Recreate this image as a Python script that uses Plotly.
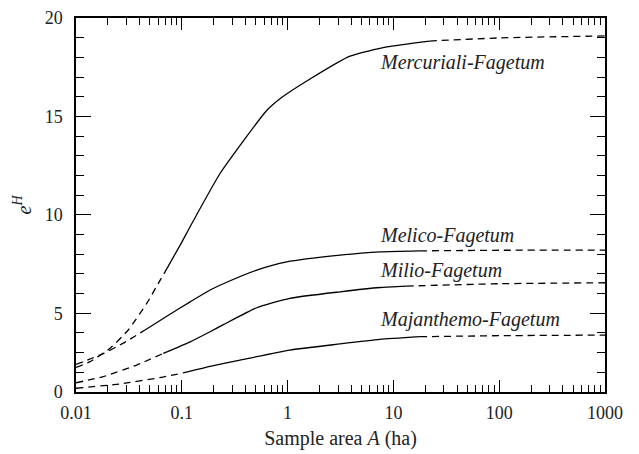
import plotly.graph_objects as go
import math

# ---- data ----
merc_x = [0.01, 0.0136, 0.021, 0.0312, 0.0466, 0.06, 0.0694, 0.0998, 0.115, 0.23, 0.634, 0.848, 1.63, 3.89, 8.65, 22, 102, 1000]
merc_y = [2.25, 2.54, 3.22, 4.15, 5.5, 6.52, 7.1, 8.6, 9.22, 12.1, 15.3, 15.9, 16.9, 18.06, 18.53, 18.83, 18.99, 19.09]
merc_solid = (0.0694, 22)

meli_x = [0.01, 0.0181, 0.028, 0.0449, 0.0773, 0.12, 0.185, 0.247, 0.51, 0.98, 3.13, 7.46, 17.8, 100, 1000]
meli_y = [2.4, 2.95, 3.48, 4.15, 4.95, 5.58, 6.18, 6.5, 7.19, 7.61, 7.95, 8.12, 8.17, 8.2, 8.21]
meli_solid = (0.0449, 17.8)

mili_x = [0.01, 0.0181, 0.0375, 0.0668, 0.12, 0.185, 0.247, 0.51, 1.05, 3.13, 7.46, 13.3, 100, 1000]
mili_y = [1.47, 1.78, 2.37, 2.96, 3.55, 4.06, 4.42, 5.28, 5.76, 6.09, 6.31, 6.38, 6.5, 6.55]
mili_solid = (0.0668, 13.3)

maja_x = [0.01, 0.026, 0.0668, 0.103, 0.185, 0.355, 1.05, 3.13, 7.46, 17.8, 100, 1000]
maja_y = [1.19, 1.41, 1.76, 1.97, 2.3, 2.62, 3.13, 3.44, 3.67, 3.81, 3.86, 3.89]
maja_solid = (0.103, 17.8)

names = ["Mercuriali-Fagetum", "Melico-Fagetum", "Milio-Fagetum", "Majanthemo-Fagetum"]
label_x = [7.15, 7.15, 7.15, 7.15]
label_y = [17.74, 8.93, 7.19, 4.69]

x_tickvals = [0.01, 0.1, 1, 10, 100, 1000]
x_ticktext = ["0.01", "0.1", "1", "10", "100", "1000"]
y_tickvals = [1, 5, 10, 15, 20]
y_ticktext = ["0", "5", "10", "15", "20"]

FONT = "Liberation Serif"
INK = "#222"
series = [(merc_x, merc_y, merc_solid), (meli_x, meli_y, meli_solid),
          (mili_x, mili_y, mili_solid), (maja_x, maja_y, maja_solid)]

fig = go.Figure()
for xs, ys, (s0, s1) in series:
    left = [(x, y) for x, y in zip(xs, ys) if x <= s0]
    mid = [(x, y) for x, y in zip(xs, ys) if s0 <= x <= s1]
    right = [(x, y) for x, y in zip(xs, ys) if x >= s1]
    for seg, dash in ((left, "7px,5px"), (mid, "solid"), (right, "7px,5px")):
        fig.add_trace(go.Scatter(
            x=[p[0] for p in seg], y=[p[1] for p in seg], mode="lines",
            line=dict(color="black", width=1.3, dash=dash, shape="spline", smoothing=0.5),
            showlegend=False, hoverinfo="skip"))

for n, lx, ly in zip(names, label_x, label_y):
    fig.add_annotation(x=math.log10(lx), y=ly, text="<i>%s</i>" % n, showarrow=False,
                       xanchor="left", yanchor="middle",
                       font=dict(family=FONT, size=20, color=INK))

fig.update_layout(
    width=639, height=454,
    margin=dict(l=76, r=34, t=18, b=62),
    paper_bgcolor="white", plot_bgcolor="white",
    font=dict(family=FONT, size=18, color=INK),
)
fig.update_xaxes(
    type="log", range=[-2, 3], tickvals=x_tickvals, ticktext=x_ticktext,
    automargin=False,
    ticks="inside", ticklen=12, tickwidth=1.3, tickcolor="black",
    tickfont=dict(family=FONT, size=18, color=INK),
    minor=dict(ticks="inside", ticklen=7, tickwidth=1.3, tickcolor="black", dtick="D1", showgrid=False),
    showline=True, linecolor="black", linewidth=1.5, mirror="allticks",
    showgrid=False, zeroline=False,
    title=dict(text="Sample area <i>A</i> (ha)", font=dict(family=FONT, size=20, color=INK), standoff=9),
    ticklabelstandoff=4,
)
fig.update_yaxes(
    range=[1, 20], tickvals=y_tickvals, ticktext=y_ticktext,
    automargin=False,
    ticks="inside", ticklen=15, tickwidth=1.3, tickcolor="black",
    tickfont=dict(family=FONT, size=18, color=INK),
    minor=dict(ticks="inside", ticklen=8, tickwidth=1.3, tickcolor="black", dtick=1, tick0=0, showgrid=False),
    showline=True, linecolor="black", linewidth=1.5, mirror="allticks",
    showgrid=False, zeroline=False,
    title=dict(text="<i>e</i><sup><i>H</i></sup>", font=dict(family=FONT, size=20, color=INK), standoff=8),
    ticklabelstandoff=8,
)

fig.write_html("out.html", config={"displayModeBar": False},
               post_script="document.body.style.margin='0px';")
